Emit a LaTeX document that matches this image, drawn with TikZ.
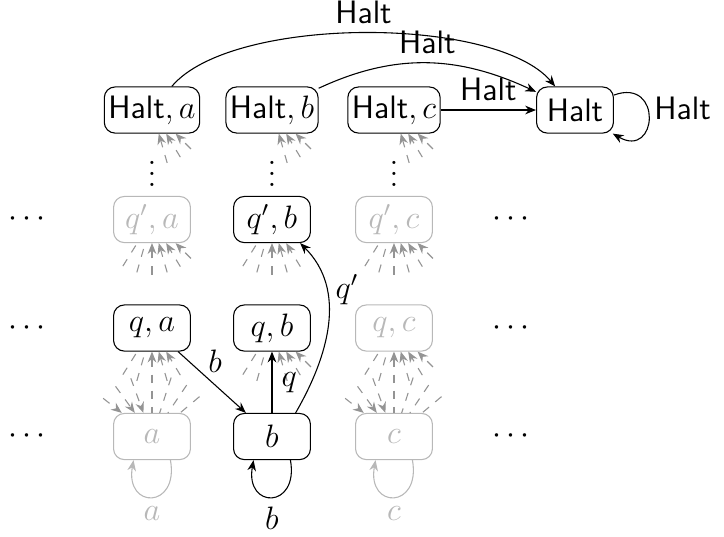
\documentclass[tikz,border=0pt]{standalone}
\usetikzlibrary{arrows.meta,calc}
\begin{document}
\begin{tikzpicture}[x=0.37pt,y=0.37pt,
  >={Stealth[length=4pt,width=3.2pt]},
  every node/.style={font=\large},
  st/.style={draw, rounded corners=4pt, minimum width=1cm, minimum height=0.6cm, inner sep=1.5pt},
  gst/.style={st, draw=black!28, text=black!28},
  fan/.style={draw=black!42, dashed, line width=0.4pt},
  gloop/.style={draw=black!28},
  lbl/.style={font=\large\sffamily}]
\useasboundingbox (0,0) rectangle (724,-536);

% Halt row
\node[st] (ha) at (152,-110) {$\textsf{Halt}, a$};
\node[st] (hb) at (272,-110) {$\textsf{Halt}, b$};
\node[st] (hc) at (394,-110) {$\textsf{Halt}, c$};
\node[st] (h)  at (575,-110) {\textsf{Halt}};

% vdots
\node[inner sep=0pt] (va) at (152,-166) {$\vdots$};
\node[inner sep=0pt] (vb) at (272,-166) {$\vdots$};
\node[inner sep=0pt] (vc) at (394,-166) {$\vdots$};

% q' row
\node[gst] (qpa) at (152,-219.5) {$q', a$};
\node[st]  (qpb) at (272,-219.5) {$q', b$};
\node[gst] (qpc) at (394,-219.5) {$q', c$};
% q row
\node[st]  (qa) at (152,-328) {$q, a$};
\node[st]  (qb) at (272,-328) {$q, b$};
\node[gst] (qc) at (394,-328) {$q, c$};
% bottom row
\node[gst] (a) at (152,-436.5) {$a$};
\node[st]  (b) at (272,-436.5) {$b$};
\node[gst] (c) at (394,-436.5) {$c$};

% dots left / right
\node (l1) at (27,-219.5) {$\cdots$};
\node (l2) at (27,-328) {$\cdots$};
\node (l3) at (27,-436.5) {$\cdots$};
\node (r1) at (511,-219.5) {$\cdots$};
\node (r2) at (511,-328) {$\cdots$};
\node (r3) at (511,-436.5) {$\cdots$};

% fans below
\foreach \n in {qpa,qpc,qc,qpb,qa,qb} {
  \foreach \t in {-122,-106} \draw[fan] ($(\n.center)+(\t:55)$) -- (\n.\t);
}
\foreach \n in {qpa,qpc,qc} {
  \foreach \t in {-90,-74,-59,-45} \draw[fan,->] ($(\n.center)+(\t:55)$) -- (\n.\t);
}
\foreach \n in {qpb,qa} {
  \foreach \t in {-90,-74,-59} \draw[fan,->] ($(\n.center)+(\t:55)$) -- (\n.\t);
}
\foreach \n in {qb,ha,hb,hc} {
  \foreach \t in {-74,-59,-45} \draw[fan,->] ($(\n.center)+(\t:55)$) -- (\n.\t);
}
% fans above bottom gray nodes
\foreach \n in {a,c} {
  \foreach \t in {142,126,110} \draw[fan,->] ($(\n.center)+(\t:62)$) -- (\n.\t);
  \foreach \t in {90,72,56,40} \draw[fan] ($(\n.center)+(\t:62)$) -- (\n.\t);
}

% Halt edges
\draw[->] (ha) to[out=50,in=130,looseness=0.62] node[above,lbl] {Halt} (h);
\draw[->] (hb) to[out=25,in=155] node[above,lbl] {Halt} (h);
\draw[->] (hc) -- node[above,lbl] {Halt} (h);
\draw[->] (h.21) .. controls +(20:52) and +(-30:52) .. (h.-32)
  node[pos=0.4,right=-1pt,lbl] {Halt};

% other edges
\draw[->] (qa) -- node[pos=0.4,above right,inner sep=1pt] {$b$} (b);
\draw[->] (b) -- node[right] {$q$} (qb);
\draw[->] (b.45) to[out=60,in=-45] node[pos=0.7,right] {$q'$} (qpb.-40);

% loops
\draw[->] (b.-52) .. controls +(-80:50) and +(-100:50) .. (b.-128)
  node[pos=0.5,below] {$b$};
\draw[->,gloop] (a.-52) .. controls +(-80:50) and +(-100:50) .. (a.-128)
  node[pos=0.5,below,text=black!28] {$a$};
\draw[->,gloop] (c.-52) .. controls +(-80:50) and +(-100:50) .. (c.-128)
  node[pos=0.5,below,text=black!28] {$c$};
\end{tikzpicture}
\end{document}
